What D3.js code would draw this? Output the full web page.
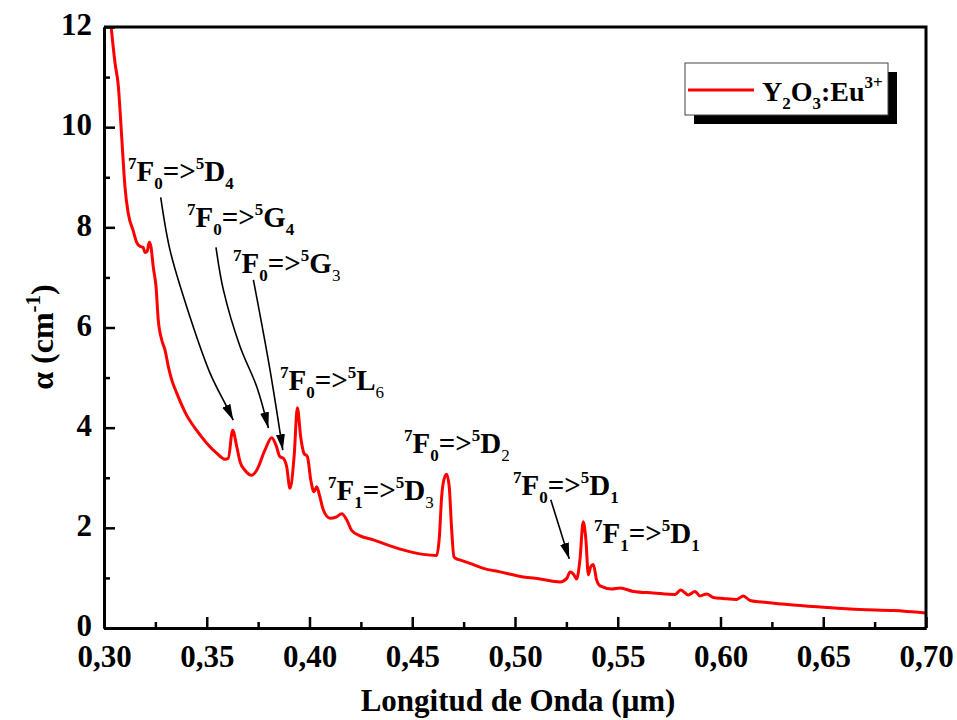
<!DOCTYPE html>
<html>
<head>
<meta charset="utf-8">
<script src="https://cdn.jsdelivr.net/npm/d3@7/dist/d3.min.js"></script>
<style>
  html, body { margin: 0; padding: 0; background: #fff; }
  svg { display: block; }
  text { font-family: "Liberation Serif", "Times New Roman", serif; font-weight: bold; fill: #000; }
</style>
</head>
<body>
<script>
// ---------------- data ----------------
const wavelength = [0.3030,0.3054,0.3070,0.3081,0.3091,0.3102,0.3118,0.3143,0.3159,0.3175,0.3190,0.3200,0.3210,0.3220,0.3228,0.3240,0.3253,0.3264,0.3281,0.3297,0.3313,0.3330,0.3354,0.3402,0.3450,0.3500,0.3548,0.3589,0.3605,0.3626,0.3646,0.3662,0.3686,0.3719,0.3743,0.3783,0.3816,0.3837,0.3856,0.3872,0.3889,0.3905,0.3925,0.3941,0.3957,0.3973,0.3990,0.4006,0.4022,0.4035,0.4048,0.4067,0.4100,0.4132,0.4157,0.4181,0.4205,0.4246,0.4311,0.4392,0.4473,0.4554,0.4619,0.4632,0.4643,0.4654,0.4667,0.4680,0.4691,0.4703,0.4716,0.4732,0.4781,0.4846,0.4927,0.5040,0.5122,0.5219,0.5252,0.5268,0.5284,0.5300,0.5316,0.5332,0.5345,0.5357,0.5368,0.5381,0.5397,0.5414,0.5470,0.5511,0.5576,0.5673,0.5779,0.5806,0.5843,0.5876,0.5900,0.5933,0.5965,0.6014,0.6079,0.6111,0.6144,0.6225,0.6354,0.6517,0.6679,0.6841,0.7000];
const alpha = [12.2,11.27,10.81,10.14,9.48,8.81,8.28,7.92,7.70,7.62,7.60,7.50,7.52,7.70,7.62,7.20,6.82,6.15,5.75,5.55,5.22,4.95,4.69,4.25,3.95,3.69,3.49,3.37,3.39,3.95,3.62,3.32,3.15,3.05,3.15,3.55,3.80,3.65,3.42,3.39,3.22,2.79,3.42,4.40,3.82,3.49,3.42,2.96,2.72,2.82,2.66,2.36,2.19,2.22,2.28,2.16,1.95,1.84,1.76,1.64,1.54,1.47,1.45,1.82,2.62,2.96,3.07,2.82,2.02,1.42,1.38,1.36,1.29,1.19,1.12,1.02,0.98,0.92,0.99,1.12,1.08,0.98,1.36,2.12,1.76,1.06,1.22,1.27,0.96,0.84,0.78,0.80,0.73,0.70,0.67,0.76,0.66,0.73,0.64,0.68,0.61,0.59,0.57,0.64,0.55,0.51,0.46,0.41,0.37,0.35,0.30];

const xTicks = [0.30,0.35,0.40,0.45,0.50,0.55,0.60,0.65,0.70];
const xMinorTicks = [0.325,0.375,0.425,0.475,0.525,0.575,0.625,0.675];
const yTicks = [0,2,4,6,8,10,12];
const yMinorTicks = [1,3,5,7,9,11];

const seriesName = ["Y", "2", "O", "3", ":Eu", "3+"];
const xTitle = "Longitud de Onda (\u03bcm)";

// annotation labels
const labelFrom  = ["F","F","F","F","F","F","F","F"];
const labelFromSup = ["7","7","7","7","7","7","7","7"];
const labelFromSub = ["0","0","0","0","1","0","0","1"];
const labelTo    = ["D","G","G","L","D","D","D","D"];
const labelToSup = ["5","5","5","5","5","5","5","5"];
const labelToSub = ["4","4","3","6","3","2","1","1"];
const labelToSubBold = [true,true,false,false,false,false,true,true];
const labelX = [0.3117,0.3404,0.3628,0.3856,0.4090,0.4460,0.4990,0.5384];
const labelY = [8.92,8.01,7.09,4.75,2.56,3.49,2.66,1.70];

// arrows (wavelength, alpha) path points, last one is the tip
const arrows = [
  [[0.3276,8.60],[0.3321,7.55],[0.3402,6.42],[0.3516,5.09],[0.3597,4.42],[0.3629,4.15]],
  [[0.3545,7.60],[0.3581,6.75],[0.3662,5.62],[0.3743,4.82],[0.3800,3.99]],
  [[0.3727,6.95],[0.3808,5.15],[0.3870,3.55]],
  [[0.5174,2.56],[0.5264,1.38]]
];

// ---------------- layout ----------------
const W = 957, H = 720;
const margin = {left: 104, right: 957 - 926, top: 27, bottom: 720 - 628};
const svg = d3.select("body").append("svg").attr("width", W).attr("height", H);
svg.append("rect").attr("width", W).attr("height", H).attr("fill", "#fff");

const x = d3.scaleLinear().domain([0.30, 0.70]).range([margin.left, W - margin.right]);
const y = d3.scaleLinear().domain([0, 12]).range([H - margin.bottom, margin.top]);

const defs = svg.append("defs");
defs.append("clipPath").attr("id", "clip").append("rect")
  .attr("x", x(0.30)).attr("y", y(12)).attr("width", x(0.70) - x(0.30)).attr("height", y(0) - y(12));
defs.append("marker").attr("id", "arrowhead")
  .attr("markerUnits", "userSpaceOnUse")
  .attr("markerWidth", 17).attr("markerHeight", 10)
  .attr("refX", 16).attr("refY", 5).attr("orient", "auto")
  .append("path").attr("d", "M0,0.5 L16,5 L0,9.5 Z").attr("fill", "#000");

// ---------------- curve ----------------
const data = wavelength.map((w, i) => [w, alpha[i]]);
svg.append("path")
  .datum(data)
  .attr("clip-path", "url(#clip)")
  .attr("fill", "none")
  .attr("stroke", "#ff0000")
  .attr("stroke-width", 3)
  .attr("stroke-linejoin", "round")
  .attr("d", d3.line().x(d => x(d[0])).y(d => y(d[1])).curve(d3.curveMonotoneX));

// ---------------- axes ----------------
const fmt = d => d3.format(".2f")(d).replace(".", ",");
const gx = svg.append("g").attr("transform", `translate(0,${y(0)})`)
  .call(d3.axisBottom(x).tickValues(xTicks).tickFormat(fmt).tickSizeInner(-11).tickSizeOuter(0));
gx.selectAll("text").attr("y", 0).attr("dy", 39).style("font-size", "31px");
const gxm = svg.append("g").attr("transform", `translate(0,${y(0)})`)
  .call(d3.axisBottom(x).tickValues(xMinorTicks).tickFormat("").tickSizeInner(-6).tickSizeOuter(0));

const gy = svg.append("g").attr("transform", `translate(${x(0.30)},0)`)
  .call(d3.axisLeft(y).tickValues(yTicks).tickFormat(d3.format("d")).tickSizeInner(-11).tickSizeOuter(0));
gy.selectAll("text").attr("x", -12).attr("dy", "0.25em").style("font-size", "31px");
const gym = svg.append("g").attr("transform", `translate(${x(0.30)},0)`)
  .call(d3.axisLeft(y).tickValues(yMinorTicks).tickFormat("").tickSizeInner(-6).tickSizeOuter(0));

[gx, gxm, gy, gym].forEach(g => {
  g.selectAll("line").attr("stroke", "#000").attr("stroke-width", 2.5);
  g.selectAll(".domain").attr("stroke", "#000").attr("stroke-width", 3);
  g.selectAll("text").attr("font-family", null);
});
// top & right frame
svg.append("path")
  .attr("d", `M${x(0.30)},${y(12)} H${x(0.70)} V${y(0)}`)
  .attr("fill", "none").attr("stroke", "#000").attr("stroke-width", 3);

// ---------------- titles ----------------
svg.append("text").attr("x", (x(0.30) + x(0.70)) / 2 + 3).attr("y", 711)
  .attr("text-anchor", "middle").style("font-size", "31px").text(xTitle);

const yt = svg.append("text")
  .attr("transform", `translate(53,${337}) rotate(-90)`)
  .attr("text-anchor", "middle").style("font-size", "32px");
yt.append("tspan").text("\u03b1 (cm");
yt.append("tspan").attr("dy", -13).style("font-size", "21px").text("-1");
yt.append("tspan").attr("dy", 13).text(")");

// ---------------- annotations ----------------
labelX.forEach((lx, i) => {
  const t = svg.append("text").attr("x", x(lx)).attr("y", y(labelY[i])).style("font-size", "29px");
  t.append("tspan").attr("dy", -12).style("font-size", "17px").text(labelFromSup[i]);
  t.append("tspan").attr("dy", 12).text(labelFrom[i]);
  t.append("tspan").attr("dy", 8).style("font-size", "17px").text(labelFromSub[i]);
  t.append("tspan").attr("dy", -8).text("=>");
  t.append("tspan").attr("dy", -12).style("font-size", "17px").text(labelToSup[i]);
  t.append("tspan").attr("dy", 12).text(labelTo[i]);
  t.append("tspan").attr("dy", 8).style("font-size", "17px")
    .style("font-weight", labelToSubBold[i] ? "bold" : "normal").text(labelToSub[i]);
});

const arrowLine = d3.line().x(d => x(d[0])).y(d => y(d[1])).curve(d3.curveCatmullRom);
arrows.forEach(pts => {
  svg.append("path").attr("d", arrowLine(pts))
    .attr("fill", "none").attr("stroke", "#000").attr("stroke-width", 1.6)
    .attr("marker-end", "url(#arrowhead)");
});

// ---------------- legend ----------------
const lg = svg.append("g");
lg.append("rect").attr("x", 694).attr("y", 72).attr("width", 203).attr("height", 52).attr("fill", "#000");
lg.append("rect").attr("x", 685).attr("y", 63).attr("width", 203).attr("height", 52)
  .attr("fill", "#fff").attr("stroke", "#444").attr("stroke-width", 1);
lg.append("line").attr("x1", 688).attr("x2", 754).attr("y1", 90).attr("y2", 90)
  .attr("stroke", "#ff0000").attr("stroke-width", 3);
const lt = lg.append("text").attr("x", 762).attr("y", 101).style("font-size", "28px");
lt.append("tspan").text(seriesName[0]);
lt.append("tspan").attr("dy", 8).style("font-size", "17px").text(seriesName[1]);
lt.append("tspan").attr("dy", -8).text(seriesName[2]);
lt.append("tspan").attr("dy", 8).style("font-size", "17px").text(seriesName[3]);
lt.append("tspan").attr("dy", -8).text(seriesName[4]);
lt.append("tspan").attr("dy", -13).style("font-size", "17px").text(seriesName[5]);
</script>
</body>
</html>
